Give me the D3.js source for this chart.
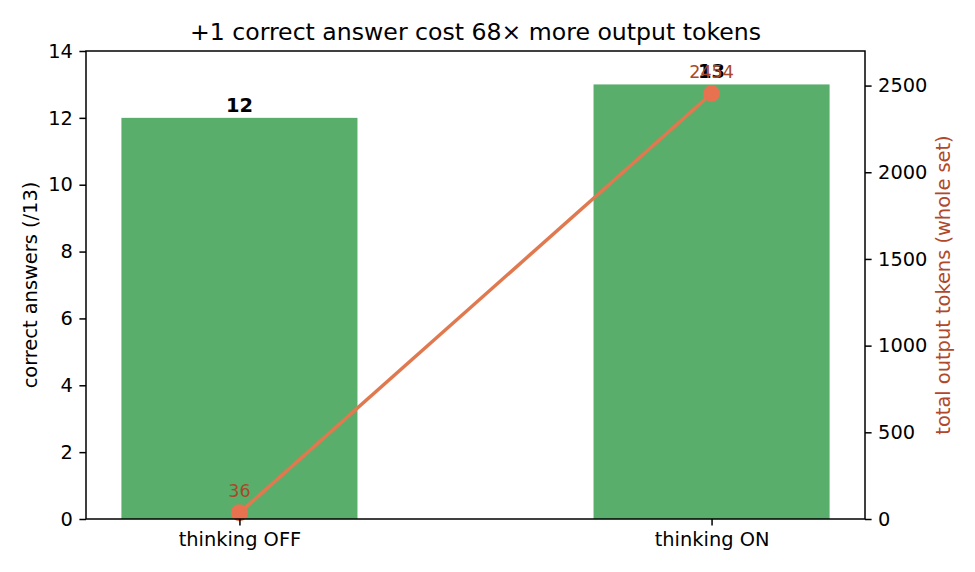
<!DOCTYPE html>
<html>
<head>
<meta charset="utf-8">
<script src="https://cdn.jsdelivr.net/npm/d3@7"></script>
<style>
  body { margin: 0; background: #fff; }
  text { font-family: "DejaVu Sans", sans-serif; }
</style>
</head>
<body>
<svg id="chart" width="975" height="572"></svg>
<script>
// chart data
var categories = ["thinking OFF", "thinking ON"];
var correct = [12, 13];
var tokens = [36, 2454];
var leftTicks = [0, 2, 4, 6, 8, 10, 12, 14];
var rightTicks = [0, 500, 1000, 1500, 2000, 2500];

var W = 975, H = 572;
var m = { top: 51, right: 110, bottom: 53, left: 86 };
var iw = W - m.left - m.right, ih = H - m.top - m.bottom;

var svg = d3.select("#chart");
var g = svg.append("g").attr("transform", "translate(" + m.left + "," + m.top + ")");

// x in "data units" like matplotlib: bars at 0,1 width 0.5
var x = d3.scaleLinear().domain([-0.325, 1.325]).range([0, iw]);
var yL = d3.scaleLinear().domain([0, 14]).range([ih, 0]);
var yR = d3.scaleLinear().domain([0, d3.max(tokens) * 1.1]).range([ih, 0]);

var fs = 19.4;

// bars
g.selectAll("rect.bar").data(correct).enter().append("rect")
  .attr("class", "bar")
  .attr("x", function(d, i) { return x(i - 0.25); })
  .attr("width", x(0.25) - x(-0.25))
  .attr("y", function(d) { return yL(d); })
  .attr("height", function(d) { return ih - yL(d); })
  .attr("fill", "#5aae6b");

// bar labels
g.selectAll("text.blab").data(correct).enter().append("text")
  .attr("x", function(d, i) { return x(i); })
  .attr("y", function(d) { return yL(d) - 6; })
  .attr("text-anchor", "middle")
  .attr("font-size", fs)
  .attr("font-weight", "bold")
  .text(function(d) { return d; });

// token line
var line = d3.line()
  .x(function(d, i) { return x(i); })
  .y(function(d) { return yR(d); });
g.append("path").datum(tokens)
  .attr("d", line)
  .attr("fill", "none")
  .attr("stroke", "#e0794f")
  .attr("stroke-width", 3.5);
g.selectAll("circle.pt").data(tokens).enter().append("circle")
  .attr("cx", function(d, i) { return x(i); })
  .attr("cy", function(d) { return yR(d); })
  .attr("r", 8.5)
  .attr("fill", "#e8724f");
g.selectAll("text.tlab").data(tokens).enter().append("text")
  .attr("x", function(d, i) { return x(i); })
  .attr("y", function(d) { return yR(d) - 16; })
  .attr("text-anchor", "middle")
  .attr("font-size", 17.5)
  .attr("fill", "#a9482a")
  .text(function(d) { return d; });

// axes
function styleAxis(sel) {
  sel.selectAll("text").attr("font-size", fs).attr("fill", "#000").attr("font-family", "DejaVu Sans");
  sel.selectAll("line").attr("stroke", "#000").attr("stroke-width", 1.5);
  sel.select(".domain").remove();
}
g.append("g").attr("transform", "translate(0," + ih + ")")
  .call(d3.axisBottom(x).tickValues([0, 1]).tickFormat(function(d) { return categories[d]; })
    .tickSize(6.6).tickPadding(6.5))
  .call(styleAxis);
g.append("g")
  .call(d3.axisLeft(yL).tickValues(leftTicks).tickSize(6.6).tickPadding(6.5))
  .call(styleAxis);
g.append("g").attr("transform", "translate(" + iw + ",0)")
  .call(d3.axisRight(yR).tickValues(rightTicks).tickFormat(d3.format("d")).tickSize(6.6).tickPadding(6.5))
  .call(styleAxis);

// frame
g.append("rect").attr("width", iw).attr("height", ih)
  .attr("fill", "none").attr("stroke", "#000").attr("stroke-width", 1.5);

// labels
svg.append("text")
  .attr("x", m.left + iw / 2).attr("y", 40)
  .attr("text-anchor", "middle").attr("font-size", 23.6)
  .text("+1 correct answer cost 68\u00d7 more output tokens");
svg.append("text")
  .attr("transform", "translate(37," + (m.top + ih / 2) + ") rotate(-90)")
  .attr("text-anchor", "middle").attr("font-size", fs)
  .text("correct answers (/13)");
svg.append("text")
  .attr("transform", "translate(950," + (m.top + ih / 2) + ") rotate(-90)")
  .attr("text-anchor", "middle").attr("font-size", fs)
  .attr("fill", "#b0482b")
  .text("total output tokens (whole set)");
</script>
</body>
</html>
